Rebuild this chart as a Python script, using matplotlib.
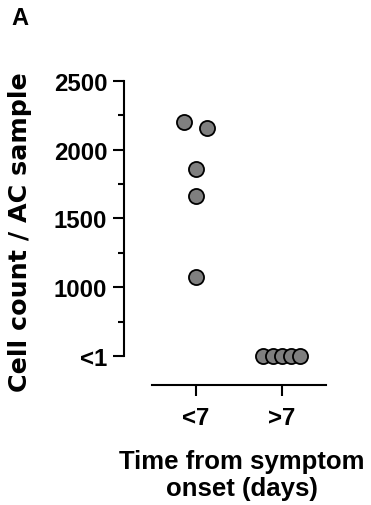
import matplotlib
matplotlib.use("Agg")
import matplotlib.pyplot as plt
import numpy as np

plt.rcParams['font.family'] = ['Liberation Sans', 'DejaVu Sans']
plt.rcParams['font.weight'] = 'bold'

groups = ['<7', '>7']
early_values = [2200, 2156, 1857, 1661, 1076]
early_offsets = [-0.137, 0.134, 0.0, 0.0, 0.0]
late_values = [500, 500, 500, 500, 500]   # "<1" plotted at bottom tick
late_offsets = [-0.217, -0.108, 0.0, 0.1, 0.208]
yticks = [500, 1000, 1500, 2000, 2500]
ytick_labels = ['<1', '1000', '1500', '2000', '2500']
yminor = [750, 1250, 1750, 2250]

fig = plt.figure(figsize=(3.71, 5.06), dpi=100)
ax = fig.add_axes([0.3342, 0.2377, 0.8787 - 0.3342, 0.838 - 0.2377])

mk = dict(s=118, c='#7f7f7f', edgecolors='black', linewidths=1.3, zorder=3, clip_on=False)
ax.scatter(np.array(early_offsets) + 0, early_values, **mk)
ax.scatter(np.array(late_offsets) + 1, late_values, **mk)

ax.set_xlim(-0.83, 1.51)
ax.set_ylim(291, 2500)

for s in ['top', 'right']:
    ax.spines[s].set_visible(False)
ax.spines['left'].set_bounds(500, 2500)
ax.spines['bottom'].set_bounds(-0.51, 1.51)
for s in ['left', 'bottom']:
    ax.spines[s].set_linewidth(1.5)

ax.set_yticks(yticks)
ax.set_yticklabels(ytick_labels)
ax.set_yticks(yminor, minor=True)
ax.set_xticks([0, 1])
ax.set_xticklabels(groups)
ax.tick_params(axis='both', which='major', length=8, width=1.5, labelsize=17.3, pad=4)
ax.tick_params(axis='x', which='major', pad=7)
ax.tick_params(axis='y', which='minor', length=4, width=1.5)
for lbl in ax.get_xticklabels() + ax.get_yticklabels():
    lbl.set_fontweight('bold')

fig.text(0.053, 0.541, 'Cell count / AC sample', rotation=90, ha='center', va='center',
         fontsize=18.3, fontweight='bold', family=['DejaVu Sans'])
fig.text(0.652, 0.06, 'Time from symptom\nonset (days)', ha='center', va='center',
         fontsize=18.5, fontweight='bold', linespacing=1.15)
fig.text(0.03, 0.964, 'A', ha='left', va='center', fontsize=17, fontweight='bold')

fig.savefig('out.png', dpi=100)
